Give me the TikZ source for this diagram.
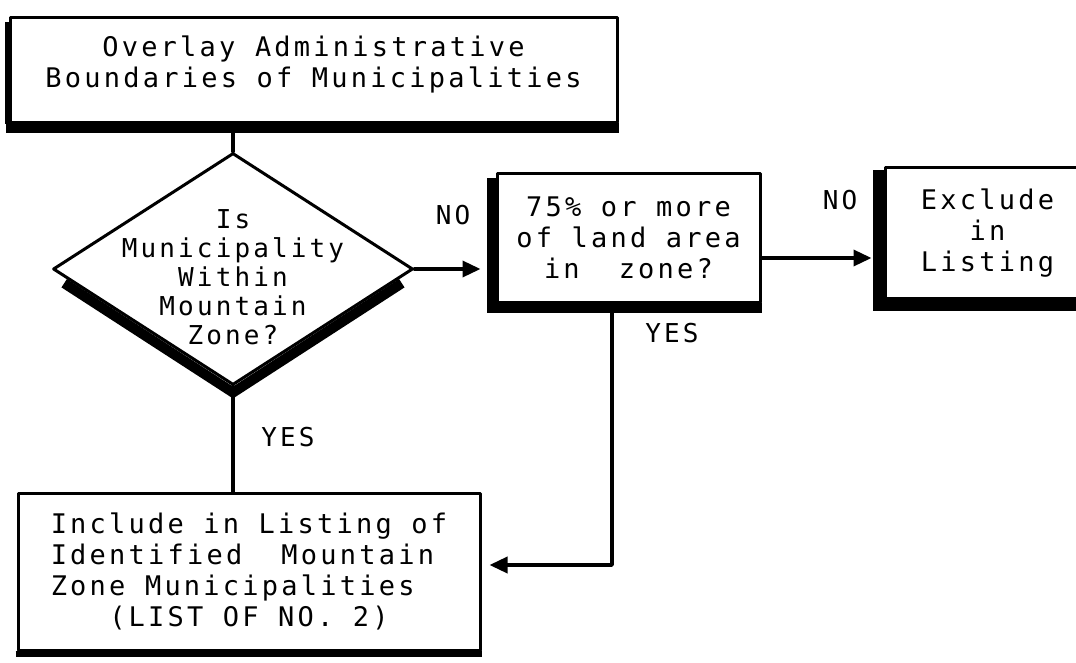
\documentclass[tikz,border=0pt]{standalone}
\usepackage{fontspec}
\newfontfamily\typewriter[LetterSpace=12]{DejaVu Sans Mono}
\usepackage{tikz}
\usetikzlibrary{arrows.meta}
\usetikzlibrary{positioning}
\usetikzlibrary{calc}
\usetikzlibrary{shapes.geometric}

\begin{document}
\begin{tikzpicture}[line cap=round,line join=round,>={Triangle[length=18pt,width=16pt]},x=1pt,y=-1pt,
  box/.style={draw,line width=3pt,rectangle,align=center,inner sep=0pt,font=\typewriter\fontsize{27}{31}\selectfont},
  decision/.style={draw,line width=3pt,diamond,inner sep=0pt},
  txt/.style={align=center,inner sep=0pt,font=\typewriter\fontsize{26}{29}\selectfont},
  tag/.style={inner sep=0pt,font=\typewriter\fontsize{26}{28}\selectfont},
  shadow/.style={line width=10pt,line cap=butt,line join=miter},
  link/.style={line width=3.5pt}]
\useasboundingbox (0,0) rectangle (1076,663);
% boxes
\node[box,text depth=17pt,minimum width=607,minimum height=105] (overlay) at (313.5,70.5) {Overlay Administrative\\Boundaries of Municipalities};
\node[decision,minimum width=360,minimum height=232] (mountain) at (233,269) {};
\node[txt] (question) at ([yshift=-8pt]mountain.center) {Is\\Municipality\\Within\\Mountain\\Zone?};
\node[box,minimum width=263,minimum height=128] (landarea) at (628.5,238) {75\% or more\\of land area\\in\ \ zone?};
\node[box,minimum width=205,minimum height=130] (exclude) at (987.5,233) {Exclude\\in\\Listing};
\node[box,align=left,minimum width=462,minimum height=157] (include) at (249,571.5) {Include in Listing of\\Identified\ \ Mountain\\Zone Municipalities\\\ \ \ (LIST OF NO. 2)};
% shadows
\draw[shadow,line width=5pt] ([xshift=-1.5pt,yshift=-6pt]overlay.north west) -- ([xshift=-1.5pt]overlay.south west);
\draw[shadow] ([xshift=-3pt,yshift=-4pt]overlay.south west) -- ([yshift=-4pt]overlay.south east);
\draw[shadow] ([yshift=-6pt]$(mountain.west)!0.07!(mountain.south)$) -- ([yshift=-6pt]mountain.south) -- ([yshift=-6pt]$(mountain.east)!0.07!(mountain.south)$);
\draw[shadow] ([xshift=-4pt,yshift=-6pt]landarea.north west) -- ([xshift=-4pt,yshift=-4pt]landarea.south west) -- ([yshift=-4pt]landarea.south east);
\draw[shadow,line width=12pt] ([xshift=-5pt,yshift=-4pt]exclude.north west) -- ([xshift=-5pt,yshift=-5pt]exclude.south west) -- ([yshift=-5pt]exclude.south east);
\draw[shadow,line width=6pt] ([xshift=-1pt,yshift=-2pt]include.south west) -- ([yshift=-2pt]include.south east);
% connectors
\coordinate (exclin) at ([yshift=-25pt]exclude.west);
\coordinate (yesturn) at (612,565);
\draw[link] (mountain.north |- overlay.south) -- (mountain.north);
\draw[link,->,shorten >=15pt] (mountain.east) -- (mountain.east -| landarea.west);
\draw[link,->,shorten >=12pt] (landarea.east |- exclin) -- (exclin);
\draw[link] (mountain.south) -- (mountain.south |- include.north);
\draw[link,->,shorten >=8pt] (yesturn |- landarea.south) -- (yesturn) -- (yesturn -| include.east);
% labels
\node[tag] (nofirst) at (453,215) {NO};
\node[tag] (nosecond) at (840,200) {NO};
\node[tag] (yesfirst) at (288,437) {YES};
\node[tag] (yessecond) at (672,333) {YES};
\end{tikzpicture}
\end{document}
